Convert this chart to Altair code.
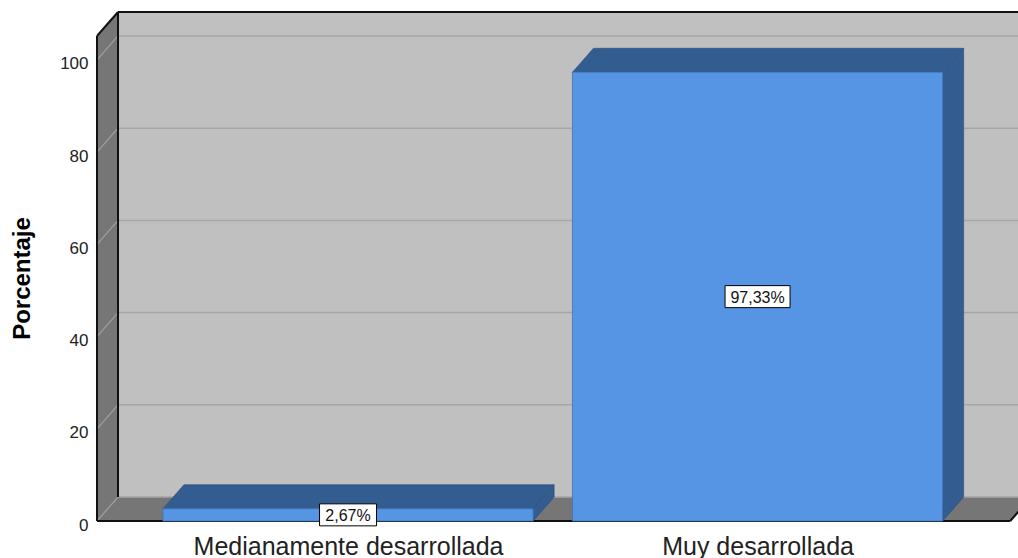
import json
import altair as alt
import pandas as pd

# ---- data -----------------------------------------------------------------
categories = ["Medianamente desarrollada", "Muy desarrollada"]
percentages = [2.67, 97.33]
y_ticks = [0, 20, 40, 60, 80, 100]

# ---- 3-D frame geometry, in data units (x: category index, y: percent) -----
X_LEFT, X_RIGHT, X_MAX = -0.613, 1.617, 1.636
Y_MAX = 110.4
DX, DY = 0.0513, 5.2          # depth offset of the back plane
WALL_TOP = Y_MAX - DY
HALF = 0.452                  # half bar width
PX_X, PX_Y = 921 / (X_MAX - X_LEFT), 509 / Y_MAX

FONT = "Liberation Sans"
WALL = "#767676"
BACK = "#c0c0c0"
GRID = "#a6a6a6"
BLUE = "#5595e3"
BLUE_DARK = "#335c90"

xs = alt.Scale(domain=[X_LEFT, X_MAX], nice=False, zero=False)
ys = alt.Scale(domain=[0, Y_MAX], nice=False, zero=False)


def qx(f, **kw):
    return alt.X(f, type="quantitative", scale=xs, **kw)


def qy(f, **kw):
    return alt.Y(f, type="quantitative", scale=ys, **kw)


# back wall (carries the axes)
back = pd.DataFrame({"x": [X_LEFT + DX], "x2": [X_MAX + DX], "y": [DY], "y2": [Y_MAX]})
label_expr = json.dumps(categories) + "[datum.value]"
back_wall = alt.Chart(back).mark_rect(color=BACK, clip=True).encode(
    x=qx("x", axis=alt.Axis(values=[0, 1], labelExpr=label_expr, title=None,
                            domain=False, ticks=False, tickSize=0, grid=False,
                            labelFont=FONT, labelFontSize=25, labelColor="#222",
                            labelLimit=600, labelOverlap=False,
                            labelBaseline="alphabetic", labelPadding=33)),
    x2="x2",
    y=qy("y", axis=alt.Axis(values=y_ticks, title="Porcentaje", domain=False,
                            ticks=False, tickSize=0, grid=False,
                            labelFont=FONT, labelFontSize=17, labelColor="#222",
                            labelPadding=9, labelOffset=4,
                            titleFont=FONT, titleFontSize=24, titleFontWeight="bold",
                            titleColor="black", titleAngle=270, titleX=-75, titleY=266,
                            titleAlign="center", titleBaseline="middle")),
    y2="y2",
)

# left wall
left = pd.DataFrame({"x": [X_LEFT, X_LEFT + DX], "lo": [0, DY], "hi": [WALL_TOP, Y_MAX]})
left_wall = alt.Chart(left).mark_area(color=WALL, clip=True).encode(
    x=qx("x"), y=qy("lo", stack=None), y2="hi")

# floor
floor = pd.DataFrame({"y": [0, DY], "xa": [X_LEFT, X_LEFT + DX], "xb": [X_RIGHT, X_RIGHT + DX]})
floor_area = alt.Chart(floor).mark_area(color=WALL, orient="horizontal", clip=True).encode(
    y=qy("y"), x=qx("xa", stack=None), x2="xb")

# grid lines: horizontal on the back wall, slanted on the left wall
grid_back = pd.DataFrame({"x": X_LEFT + DX, "x2": X_MAX + DX, "y": [v + DY for v in y_ticks]})
grid_side = pd.DataFrame({"x": X_LEFT, "x2": X_LEFT + DX, "y": y_ticks,
                          "y2": [v + DY for v in y_ticks]})
grid1 = alt.Chart(grid_back).mark_rule(color=GRID, strokeWidth=1.5, clip=True).encode(
    x=qx("x"), x2="x2", y=qy("y"))
grid2 = alt.Chart(grid_side).mark_rule(color="#a0a0a0", strokeWidth=1.2, clip=True).encode(
    x=qx("x"), x2="x2", y=qy("y"), y2="y2")

# dark outline of the frame
edges = pd.DataFrame([
    {"x": X_LEFT, "y": 0, "x2": X_LEFT, "y2": WALL_TOP},
    {"x": X_LEFT, "y": WALL_TOP, "x2": X_LEFT + DX, "y2": Y_MAX},
    {"x": X_LEFT + DX, "y": DY, "x2": X_LEFT + DX, "y2": Y_MAX},
    {"x": X_LEFT + DX, "y": Y_MAX, "x2": X_MAX + DX, "y2": Y_MAX},
    {"x": X_LEFT, "y": 0, "x2": X_RIGHT, "y2": 0},
    {"x": X_RIGHT, "y": 0, "x2": X_RIGHT + DX, "y2": DY},
])
edge_rules = alt.Chart(edges).mark_rule(color="#111", strokeWidth=2).encode(
    x=qx("x"), x2="x2", y=qy("y"), y2="y2")

# bars: front face, top face and right side face
idx = list(range(len(categories)))
bars = pd.DataFrame({"i": idx, "v": percentages})
bars["xl"] = bars["i"] - HALF
bars["xr"] = bars["i"] + HALF
bars["zero"] = 0.0

front = alt.Chart(bars).mark_rect(color=BLUE, stroke="#3f74b5", strokeWidth=0.8).encode(
    x=qx("xl"), x2="xr", y=qy("zero"), y2="v")

top_rows, side_rows = [], []
for i, v in zip(idx, percentages):
    top_rows += [{"bar": i, "y": v, "xa": i - HALF, "xb": i + HALF},
                 {"bar": i, "y": v + DY, "xa": i - HALF + DX, "xb": i + HALF + DX}]
    side_rows += [{"bar": i, "x": i + HALF, "lo": 0, "hi": v},
                  {"bar": i, "x": i + HALF + DX, "lo": DY, "hi": v + DY}]

top = alt.Chart(pd.DataFrame(top_rows)).mark_area(
    color=BLUE_DARK, orient="horizontal", stroke="#2b4f7c", strokeWidth=0.6).encode(
    y=qy("y"), x=qx("xa", stack=None), x2="xb", detail="bar:N")
side = alt.Chart(pd.DataFrame(side_rows)).mark_area(
    color=BLUE_DARK, stroke="#2b4f7c", strokeWidth=0.6).encode(
    x=qx("x"), y=qy("lo", stack=None), y2="hi", detail="bar:N")

# value labels in white boxes
labels = bars.copy()
labels["text"] = [f"{v:.2f}".replace(".", ",") + "%" for v in percentages]
labels["ym"] = labels["v"] / 2
half_w = (labels["text"].str.len() * 8 + 17) / 2 / PX_X
half_h = 11 / PX_Y
labels["bx1"] = labels["i"] - half_w
labels["bx2"] = labels["i"] + half_w
labels["by1"] = labels["ym"] - half_h
labels["by2"] = labels["ym"] + half_h

boxes = alt.Chart(labels).mark_rect(fill="white", stroke="black", strokeWidth=1).encode(
    x=qx("bx1"), x2="bx2", y=qy("by1"), y2="by2")
texts = alt.Chart(labels).mark_text(font=FONT, fontSize=16, color="#111", baseline="middle",
                                    dy=1).encode(
    x=qx("i"), y=qy("ym"), text="text:N")

chart = alt.layer(
    back_wall, left_wall, floor_area, grid1, grid2, edge_rules,
    side, top, front, boxes, texts,
).properties(
    width=921, height=509,
    autosize=alt.AutoSizeParams(type="none"),
    padding={"left": 97, "top": 12, "right": 0, "bottom": 37},
    background="white",
).configure_view(strokeWidth=0)

chart.save("out.html", embed_options={"renderer": "svg", "actions": False})
